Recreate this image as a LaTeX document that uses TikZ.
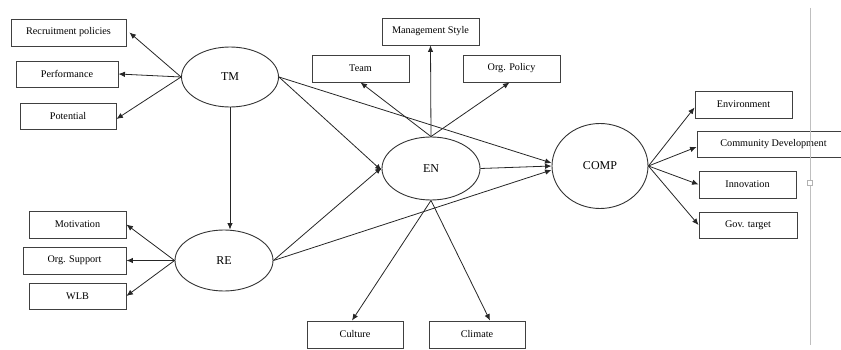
\documentclass[tikz,border=0pt]{standalone}
\usepackage{fontspec}
\setmainfont{Liberation Serif}
\usetikzlibrary{arrows.meta,shapes.geometric}
\begin{document}
\begin{tikzpicture}[x=1pt,y=-1pt,
  box/.style={draw=black!75,line width=0.9pt,inner sep=0pt,minimum height=27pt,minimum width=97pt,font=\fontsize{10.2}{12}\selectfont},
  lat/.style={draw=black!80,line width=0.9pt,ellipse,inner sep=0pt,font=\fontsize{12}{14}\selectfont},
  arr/.style={draw=black!85,line width=0.8pt,-{Latex[length=6.5pt,width=5.5pt]}}]
\useasboundingbox (0,0) rectangle (841,350);
% latent variables
\node[lat,minimum width=97pt,minimum height=60pt] (TM) at (230,77) {TM};
\node[lat,minimum width=98pt,minimum height=61pt] (RE) at (224,260.5) {RE};
\node[lat,minimum width=98pt,minimum height=63pt] (EN) at (431,168.5) {EN};
\node[lat,minimum width=96pt,minimum height=85pt] (COMP) at (600,166) {COMP};
% indicators
\node[box,minimum width=115pt] (rec) at (68.5,32.5) {Recruitment policies};
\node[box,minimum width=102pt,minimum height=26pt] (perf) at (67,74) {Performance};
\node[box,minimum width=96pt,minimum height=26pt] (pot) at (68,116) {Potential};
\node[box] (mot) at (77.5,224.5) {Motivation};
\node[box,minimum width=103pt] (orgs) at (74.5,260.5) {Org. Support};
\node[box,minimum height=26pt] (wlb) at (77.5,296) {WLB};
\node[box] (mgmt) at (430.5,31.5) {Management Style};
\node[box] (team) at (360.5,68.5) {Team};
\node[box] (orgp) at (511.5,68.5) {Org. Policy};
\node[box] (env) at (743.5,104.5) {Environment};
\node[box,minimum width=146pt,minimum height=26pt] (comm) at (770,144) {\hspace*{7pt}Community Development};
\node[box] (inn) at (747.5,184.5) {Innovation};
\node[box,minimum width=98pt,minimum height=26pt] (gov) at (748,225) {Gov. target};
\node[box,minimum width=96pt] (cult) at (355,334.5) {Culture};
\node[box,minimum width=96pt] (clim) at (477,334.5) {Climate};
% TM indicators
\draw[arr] (TM.west) -- ([xshift=3pt]rec.east);
\draw[arr] (TM.west) -- (perf.east);
\draw[arr] (TM.west) -- ([yshift=-3pt]pot.east);
% RE indicators
\draw[arr] (RE.west) -- (mot.east);
\draw[arr] (RE.west) -- (orgs.east);
\draw[arr] (RE.west) -- (wlb.east);
% EN indicators
\draw[arr] (EN.north) -- (team.south);
\draw[arr] (EN.north) -- (mgmt.south);
\draw[arr] (EN.north) -- ([xshift=-2pt]orgp.south);
\draw[arr] (EN.south) -- ([xshift=-3pt]cult.north);
\draw[arr] (EN.south) -- ([xshift=13pt]clim.north);
% COMP indicators
\draw[arr] (COMP.east) -- ([yshift=-3pt]env.west);
\draw[arr] (COMP.east) -- ([yshift=-3pt]comm.west);
\draw[arr] (COMP.east) -- (inn.west);
\draw[arr] (COMP.east) -- (gov.west);
% structural paths
\draw[arr] (TM.south) -- (TM.south |- RE.north);
\draw[arr] (TM.east) -- ([yshift=-2pt]EN.west);
\draw[arr] (RE.east) -- ([yshift=1pt]EN.west);
\draw[arr] (TM.east) -- ([yshift=3pt]COMP.west);
\draw[arr] (EN.east) -- (COMP.west);
\draw[arr] (RE.east) -- ([yshift=-4pt]COMP.west);
% editor artefact
\draw[black!25,line width=1pt] (810,8) -- (810,345);
\draw[black!30,fill=white,line width=0.6pt] (807.5,180.5) rectangle (812.5,185.5);
\end{tikzpicture}
\end{document}
